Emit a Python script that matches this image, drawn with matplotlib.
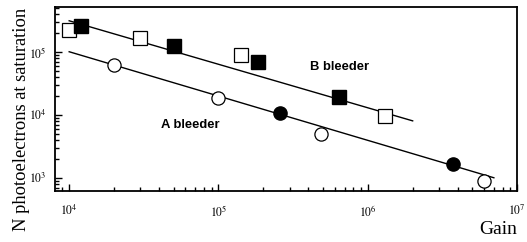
import matplotlib
matplotlib.use("Agg")
import matplotlib.pyplot as plt
from matplotlib.ticker import LogLocator, NullFormatter

# Data
b_open_x = [1.0e4, 3.0e4, 1.41e5, 1.30e6]
b_open_y = [2.2e5, 1.67e5, 8.9e4, 9.6e3]
b_fill_x = [1.2e4, 5.0e4, 1.83e5, 6.4e5]
b_fill_y = [2.6e5, 1.25e5, 6.9e4, 1.93e4]
a_open_x = [2.0e4, 1.0e5, 4.9e5, 6.0e6]
a_open_y = [6.2e4, 1.86e4, 5.0e3, 9.0e2]
a_fill_x = [2.6e5, 3.7e6]
a_fill_y = [1.08e4, 1.67e3]
b_fit_x = [1.0e4, 2.0e6]
b_fit_y = [3.1e5, 8.0e3]
a_fit_x = [1.0e4, 7.0e6]
a_fit_y = [1.0e5, 1.0e3]

plt.rcParams['mathtext.fontset'] = 'stix'
plt.rcParams['font.family'] = 'Liberation Serif'

fig = plt.figure(figsize=(5.27, 2.42), dpi=100)
ax = fig.add_axes([55/527, 1-191/242, (517-55)/527, (191-7)/242])
ax.set_xscale('log')
ax.set_yscale('log')
ax.set_xlim(10**3.905, 10**7.0)
ax.set_ylim(10**2.79, 10**5.71)

ax.plot(b_fit_x, b_fit_y, color='black', lw=1.0, zorder=2)
ax.plot(a_fit_x, a_fit_y, color='black', lw=1.0, zorder=2)
ms = 9.5
ax.plot(b_open_x, b_open_y, 's', ms=ms, mfc='white', mec='black', mew=0.9, ls='none', zorder=3)
ax.plot(b_fill_x, b_fill_y, 's', ms=ms, mfc='black', mec='black', ls='none', zorder=3)
ax.plot(a_open_x, a_open_y, 'o', ms=ms, mfc='white', mec='black', mew=0.9, ls='none', zorder=3)
ax.plot(a_fill_x, a_fill_y, 'o', ms=ms, mfc='black', mec='black', ls='none', zorder=3)

ax.text(0.617, 0.674, 'B bleeder', transform=ax.transAxes, fontsize=9.4, fontweight='bold',
        family='Liberation Sans', ha='center', va='center')
ax.text(0.292, 0.359, 'A bleeder', transform=ax.transAxes, fontsize=9.4, fontweight='bold',
        family='Liberation Sans', ha='center', va='center')

ax.set_xticks([1e4, 1e5, 1e6, 1e7])
ax.set_xticklabels([r'$10^4$', r'$10^5$', r'$10^6$', r'$10^7$'])
ax.set_yticks([1e3, 1e4, 1e5])
ax.set_yticklabels([r'$10^3$', r'$10^4$', r'$10^5$'])
ax.xaxis.set_minor_locator(LogLocator(base=10, subs=range(2, 10)))
ax.yaxis.set_minor_locator(LogLocator(base=10, subs=range(2, 10)))
ax.xaxis.set_minor_formatter(NullFormatter())
ax.yaxis.set_minor_formatter(NullFormatter())
ax.tick_params(which='both', direction='in', top=False, right=False, labelsize=8.5, width=1)
ax.tick_params(axis='x', which='major', length=5, pad=9)
ax.tick_params(axis='y', which='major', length=5, pad=6)
ax.tick_params(which='minor', length=3)
for s in ax.spines.values():
    s.set_linewidth(1.3)

fig.text(22/527, 1-119/242, 'N photoelectrons at saturation', rotation=90, ha='center', va='center', fontsize=13.3)
fig.text(498/527, 1-230/242, 'Gain', ha='center', va='center', fontsize=14)

fig.savefig('out.png', dpi=100)
